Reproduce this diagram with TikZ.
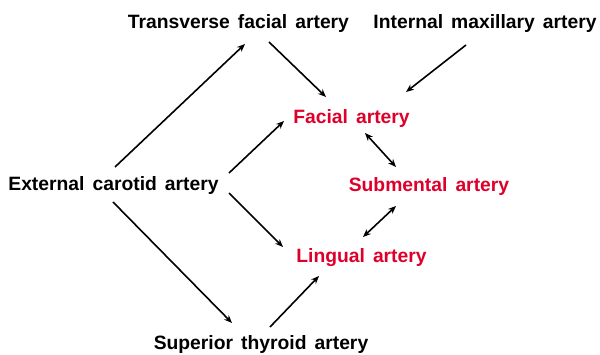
\documentclass[tikz,border=0pt]{standalone}
\usepackage{fontspec}
\setmainfont{Liberation Sans}[WordSpace={1.5,0,0}]
\usetikzlibrary{arrows.meta}
\definecolor{artred}{RGB}{222,0,42}
\tikzset{
  lbl/.style={anchor=base, inner sep=0pt, font=\fontsize{19.3}{21}\selectfont\bfseries},
  redlbl/.style={lbl, text=artred},
  arr/.style={line width=1.6pt, -{Stealth[length=8pt,width=6.5pt]}},
  darr/.style={line width=1.6pt, {Stealth[length=8pt,width=6.5pt]}-{Stealth[length=8pt,width=6.5pt]}}
}
\begin{document}
\begin{tikzpicture}[x=1pt,y=-1pt]
\useasboundingbox (0,0) rectangle (600,355);
\node[lbl] (T) at (238.5,29) {Transverse facial artery};
\node[lbl] (I) at (485,29) {Internal maxillary artery};
\node[redlbl] (F) at (351.5,124) {Facial artery};
\node[lbl] (E) at (113.5,191) {External carotid artery};
\node[redlbl] (S) at (429,192) {Submental artery};
\node[redlbl] (L) at (361.5,263) {Lingual artery};
\node[lbl] (U) at (261,350) {Superior thyroid artery};
\draw[arr] ([shift={(1.5,-24)}]E.base) -- ([shift={(6.5,15)}]T.base);
\draw[arr] ([shift={(30.5,13)}]T.base) -- ([shift={(-25.5,-27)}]F.base);
\draw[arr] ([shift={(-19,16)}]I.base) -- ([shift={(54.5,-32)}]F.base);
\draw[arr] ([shift={(115.5,-18)}]E.base) -- ([shift={(-67.5,-3)}]F.base);
\draw[darr] ([shift={(13.5,9)}]F.base) -- ([shift={(-33,-25)}]S.base);
\draw[arr] ([shift={(115.5,2)}]E.base) -- ([shift={(-78.5,-16)}]L.base);
\draw[darr] ([shift={(-33,14)}]S.base) -- ([shift={(1.5,-26)}]L.base);
\draw[arr] ([shift={(-0.5,11)}]E.base) -- ([shift={(-29,-27)}]U.base);
\draw[arr] ([shift={(9,-23)}]U.base) -- ([shift={(-42.5,13)}]L.base);
\end{tikzpicture}
\end{document}
